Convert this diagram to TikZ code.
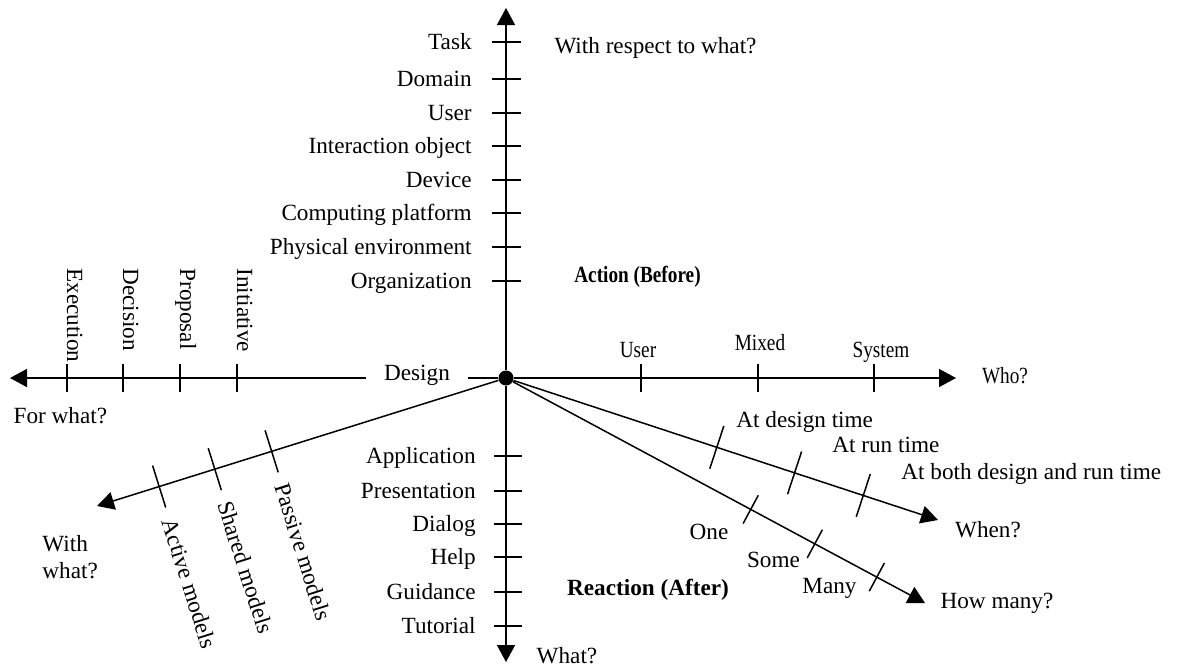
\documentclass[tikz,border=0pt]{standalone}
\usepackage{fontspec}
\setmainfont{Liberation Serif}
\usetikzlibrary{arrows.meta,calc}

\newcommand{\slim}[1]{\scalebox{0.83}[1]{#1}}

\tikzset{
	axis/.style={line width=0.75pt,-{Triangle[length=8.5pt,width=9pt]}},
	tickmark/.style={line width=0.75pt},
	lbl/.style={inner sep=0pt,font=\fontsize{11.6}{13.6}\selectfont},
	hdr/.style={lbl,font=\fontsize{11.6}{13.6}\selectfont\bfseries}
}

\begin{document}
\begin{tikzpicture}[x=0.5pt,y=-0.5pt]
		\useasboundingbox (0,0) rectangle (1177,671);

		\node[circle,fill,inner sep=0pt,minimum size=7.5pt] (o) at (506,378) {};
		\coordinate (top) at (506,8);
		\coordinate (bot) at (506,662);
		\coordinate (left) at (10,378);
		\coordinate (right) at (956,378);
		\coordinate (withend) at (97,506);
		\coordinate (whenend) at (938,520);
		\coordinate (manyend) at (925,603);

		\node[lbl,inner xsep=9pt,anchor=base] (design) at (417,380) {Design};

		\draw[axis] (o) -- (top);
		\draw[axis] (o) -- (bot);
		\draw[axis] (o) -- (right);
		\draw[tickmark] (o) -- (o -| design.east);
		\draw[axis] (o -| design.west) -- (left);
		\draw[axis] (o) -- (withend);
		\draw[axis] (o) -- (whenend);
		\draw[axis] (o) -- (manyend);

		% with respect to what
		\foreach \y/\txt [count=\i] in {42/Task,79/Domain,113/User,146/Interaction object,180/Device,213/Computing platform,247/Physical environment,281/Organization}{
			\draw[tickmark] (492,\y) -- (521,\y);
			\node[lbl,anchor=base east] (obj\i) at (472,\y+7.7) {\txt};
		}

		% what
		\foreach \y/\txt [count=\i] in {456/Application,491/Presentation,524/Dialog,557/Help,592/Guidance,626/Tutorial}{
			\draw[tickmark] (494,\y) -- (522,\y);
			\node[lbl,anchor=base east] (part\i) at (476,\y+7.7) {\txt};
		}

		% for what
		\foreach \x/\txt [count=\i] in {67/Execution,123/Decision,180/Proposal,237/Initiative}{
			\draw[tickmark] (\x,364) -- (\x,392);
			\node[lbl,rotate=-90,anchor=base west] (goal\i) at (\x,268) {\txt};
		}

		% who
		\foreach \x/\lx/\yb/\txt [count=\i] in {641/638/357/User,758/760/350/Mixed,874/881/357/System}{
			\draw[tickmark] (\x,364) -- (\x,392);
			\node[lbl,anchor=base] (agent\i) at (\lx,\yb) {\slim{\txt}};
		}

		% with what
		\foreach \p/\txt [count=\i] in {0.573/Passive models,0.712/Shared models,0.848/Active models}{
			\coordinate (w\i) at ($(o)!\p!(withend)$);
			\draw[tickmark] ($(w\i)!11pt!90:(o)$) -- ($(w\i)!11pt!-90:(o)$);
			\node[lbl,rotate=-72.5,anchor=west] (model\i) at ($(w\i)!17pt!-90:(o)$) {\txt};
		}

		% when
		\foreach \p [count=\i] in {0.488,0.668,0.827}{
			\coordinate (t\i) at ($(o)!\p!(whenend)$);
			\draw[tickmark] ($(t\i)!11.25pt!90:(o)$) -- ($(t\i)!11.25pt!-90:(o)$);
		}
		\node[lbl,anchor=west] (time1) at (736,422) {At design time};
		\node[lbl,anchor=west] (time2) at (832,445) {At run time};
		\node[lbl,anchor=west] (time3) at (901,474) {At both design and run time};

		% how many
		\foreach \p [count=\i] in {0.584,0.737,0.885}{
			\coordinate (n\i) at ($(o)!\p!(manyend)$);
			\draw[tickmark] ($(n\i)!8pt!90:(o)$) -- ($(n\i)!8pt!-90:(o)$);
		}
		\node[lbl] (count1) at (709,532) {One};
		\node[lbl] (count2) at (773.5,560) {Some};
		\node[lbl] (count3) at (829.5,588) {Many};

		\node[lbl,anchor=base] (wrt) at (655.5,53) {With respect to what?};
		\node[lbl,anchor=base] (who) at (1005,383) {\slim{Who?}};
		\node[lbl,anchor=base] (when) at (988,537) {When?};
		\node[lbl,anchor=base] (howmany) at (997,608) {How many?};
		\node[lbl,anchor=base] (what) at (567,663) {What?};
		\node[lbl,anchor=base] (forwhat) at (60.4,423) {For what?};
		\node[lbl,align=left,anchor=west] (withwhat) at (42,557) {With\\what?};
		\node[hdr,anchor=base] (action) at (637.5,282) {\slim{Action (Before)}};
		\node[hdr,anchor=base] (reaction) at (648,595) {Reaction (After)};
\end{tikzpicture}
\end{document}
